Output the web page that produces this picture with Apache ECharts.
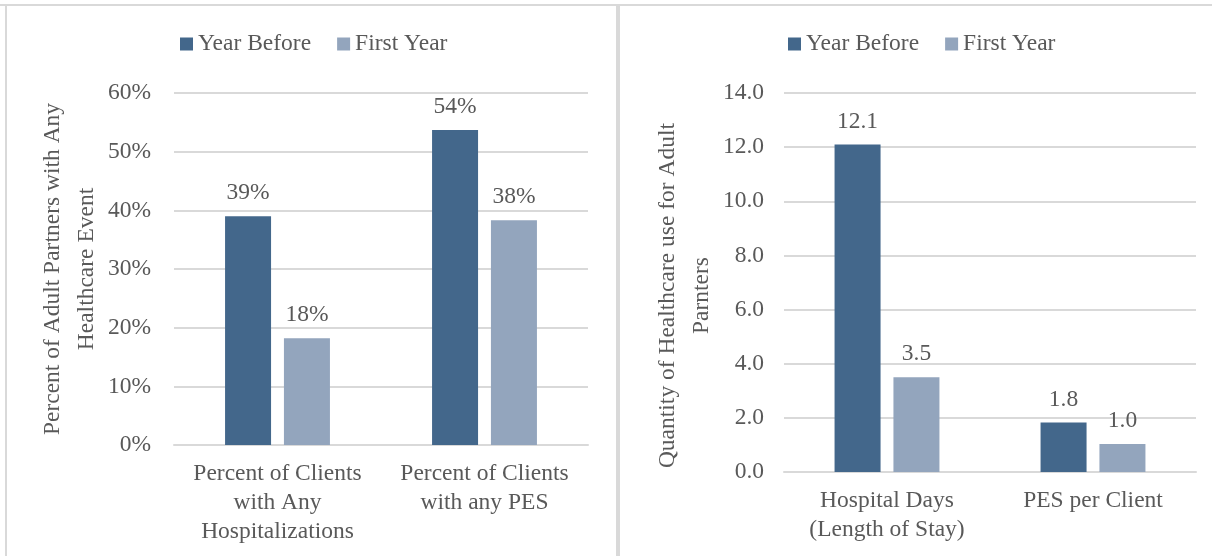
<!DOCTYPE html>
<html>
<head>
<meta charset="utf-8">
<script src="https://cdn.jsdelivr.net/npm/echarts@6/dist/echarts.min.js"></script>
<style>
html,body{margin:0;padding:0;background:#fff;}
#c{width:1212px;height:556px;}
</style>
</head>
<body>
<div id="c"></div>
<script>
const seriesNames = ['Year Before', 'First Year'];
const leftCategories = ['Percent of Clients\nwith Any\nHospitalizations', 'Percent of Clients\nwith any PES'];
const leftYearBefore = [0.39, 0.537];
const leftFirstYear = [0.182, 0.383];
const leftAxisTitle = 'Percent of Adult Partners with Any\nHealthcare Event';
const rightCategories = ['Hospital Days\n(Length of Stay)', 'PES per Client'];
const rightYearBefore = [12.1, 1.83];
const rightFirstYear = [3.5, 1.03];
const rightAxisTitle = 'Quantity of Healthcare use for Adult\nParnters';

const FONT = '"Liberation Serif", "Times New Roman", serif';
const TXT = '#595959';
const GRID = '#d9d9d9';
const DARK = '#43678B';
const LIGHT = '#93A5BD';

const chart = echarts.init(document.getElementById('c'), null, {renderer: 'canvas'});
const txt = {fontFamily: FONT, fontSize: 23.5, color: TXT};

function bar(name, data, idx, color, fmt) {
  return {
    name: name, type: 'bar', xAxisIndex: idx, yAxisIndex: idx, data: data,
    barWidth: 46, barGap: '28%',
    itemStyle: {color: color},
    label: {show: true, position: 'top', distance: 11, ...txt, formatter: fmt}
  };
}
const pct = p => Math.round(p.value * 100) + '%';
const dec = p => p.value.toFixed(1);

chart.setOption({
  animation: false,
  textStyle: {fontFamily: FONT},
  graphic: [
    {type: 'line', shape: {x1: 0, y1: 5, x2: 1212, y2: 5}, style: {stroke: '#d9d9d9', lineWidth: 2}},
    {type: 'line', shape: {x1: 6, y1: 5, x2: 6, y2: 556}, style: {stroke: '#d9d9d9', lineWidth: 2}},
    {type: 'line', shape: {x1: 618, y1: 5, x2: 618, y2: 556}, style: {stroke: '#d9d9d9', lineWidth: 4}}
  ],
  legend: [
    {left: 175, top: 27, itemWidth: 13, itemHeight: 13, itemGap: 26, icon: 'rect', textStyle: {...txt, padding: [0, 0, 0, 0]}, data: seriesNames},
    {left: 783, top: 27, itemWidth: 13, itemHeight: 13, itemGap: 26, icon: 'rect', textStyle: {...txt, padding: [0, 0, 0, 0]}, data: seriesNames}
  ],
  grid: [
    {left: 174, right: 624, top: 93, bottom: 111},
    {left: 784, right: 16, top: 93, bottom: 84}
  ],
  xAxis: [
    {type: 'category', gridIndex: 0, data: leftCategories,
     axisLine: {lineStyle: {color: GRID, width: 2}}, axisTick: {show: false},
     axisLabel: {...txt, lineHeight: 29, margin: 14, interval: 0}},
    {type: 'category', gridIndex: 1, data: rightCategories,
     axisLine: {lineStyle: {color: GRID, width: 2}}, axisTick: {show: false},
     axisLabel: {...txt, lineHeight: 29, margin: 14, interval: 0}}
  ],
  yAxis: [
    {type: 'value', gridIndex: 0, min: 0, max: 0.6, interval: 0.1,
     axisLabel: {...txt, margin: 23, formatter: v => Math.round(v * 100) + '%'},
     splitLine: {lineStyle: {color: GRID, width: 2}},
     name: leftAxisTitle, nameLocation: 'middle', nameRotate: 90, nameGap: 64,
     nameTextStyle: {...txt, lineHeight: 34}},
    {type: 'value', gridIndex: 1, min: 0, max: 14, interval: 2,
     axisLabel: {...txt, margin: 20, formatter: v => v.toFixed(1)},
     splitLine: {lineStyle: {color: GRID, width: 2}},
     name: rightAxisTitle, nameLocation: 'middle', nameRotate: 90, nameGap: 65,
     nameTextStyle: {...txt, lineHeight: 34, padding: [0, 26, 0, 0]}}
  ],
  series: [
    bar(seriesNames[0], leftYearBefore, 0, DARK, pct),
    bar(seriesNames[1], leftFirstYear, 0, LIGHT, pct),
    bar(seriesNames[0], rightYearBefore, 1, DARK, dec),
    bar(seriesNames[1], rightFirstYear, 1, LIGHT, dec)
  ]
});
</script>
</body>
</html>
